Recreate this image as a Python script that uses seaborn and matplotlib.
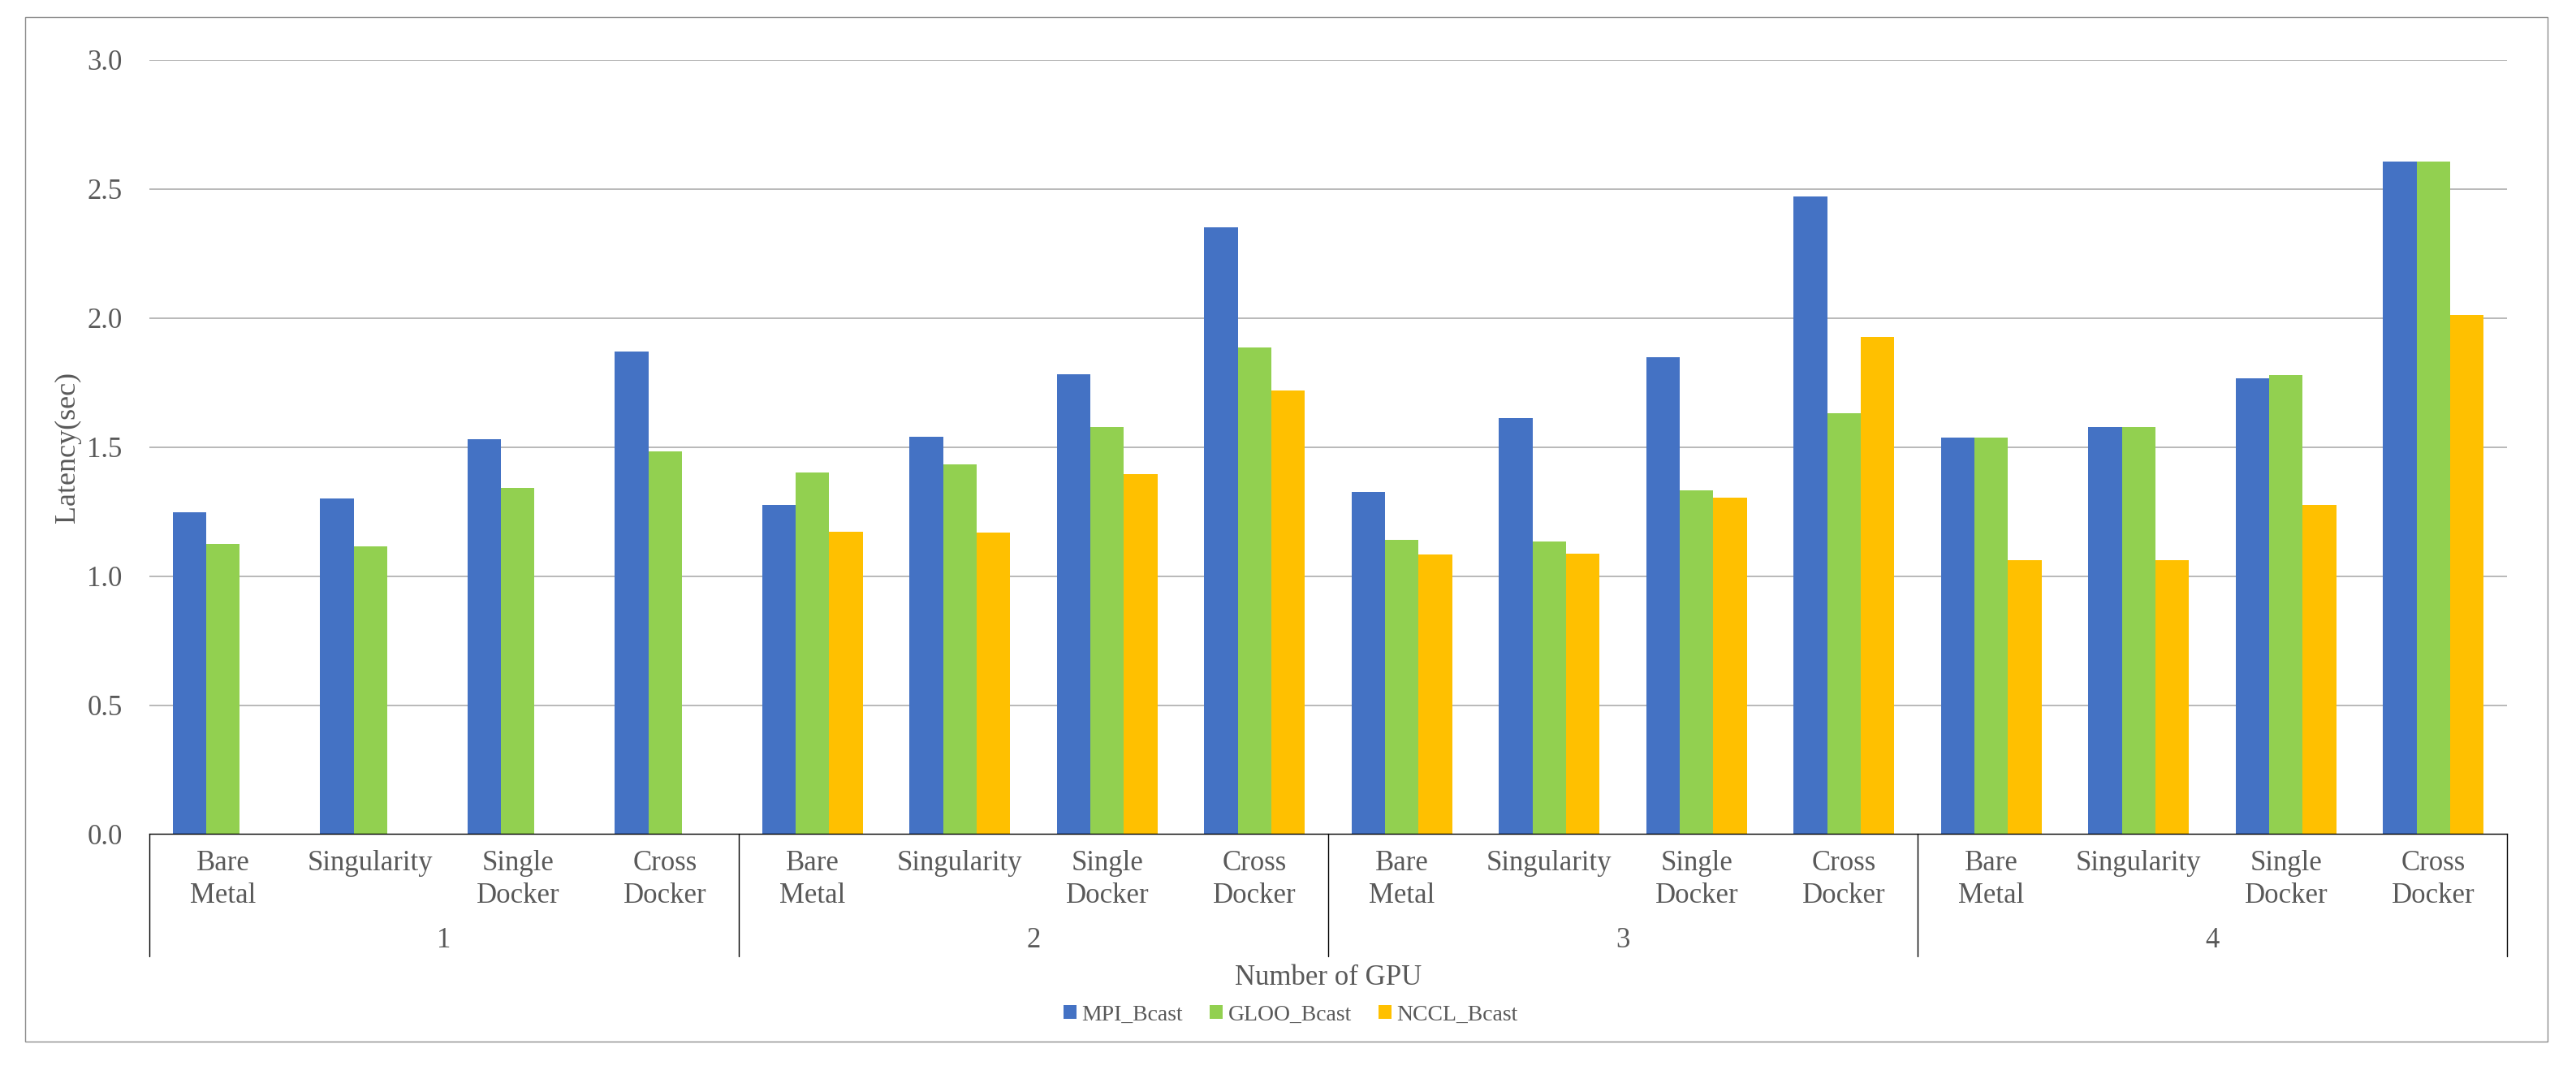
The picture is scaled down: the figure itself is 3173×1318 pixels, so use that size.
import numpy as np
import pandas as pd
import matplotlib
matplotlib.use("Agg")
import matplotlib.pyplot as plt
import matplotlib.transforms as mtransforms
from matplotlib.patches import Rectangle
import seaborn as sns

###############################################################################
# Data
###############################################################################
gpu_counts = ["1", "2", "3", "4"]
configs = ["Bare\nMetal", "Singularity", "Single\nDocker", "Cross\nDocker"]
series_names = ["MPI_Bcast", "GLOO_Bcast", "NCCL_Bcast"]

mpi_bcast = [1.248, 1.301, 1.530, 1.870,
             1.276, 1.540, 1.781, 2.351,
             1.326, 1.611, 1.847, 2.471,
             1.537, 1.578, 1.768, 2.608]
gloo_bcast = [1.124, 1.114, 1.342, 1.484,
              1.401, 1.433, 1.578, 1.885,
              1.139, 1.134, 1.332, 1.631,
              1.537, 1.578, 1.778, 2.606]
nccl_bcast = [np.nan, np.nan, np.nan, np.nan,
              1.172, 1.169, 1.395, 1.719,
              1.083, 1.086, 1.304, 1.926,
              1.061, 1.061, 1.276, 2.012]

colors = ["#4472C4", "#92D050", "#FFC000"]
text_color = "#595959"

###############################################################################
# Long-form table for seaborn
###############################################################################
slots = [f"{g}|{c}" for g in gpu_counts for c in configs]
rows = []
for name, vals in zip(series_names, [mpi_bcast, gloo_bcast, nccl_bcast]):
    for slot, v in zip(slots, vals):
        rows.append({"slot": slot, "series": name, "latency": v})
df = pd.DataFrame(rows)

###############################################################################
# Plot
###############################################################################
sns.set_theme(style="white")
plt.rcParams["font.family"] = ["Liberation Serif", "DejaVu Serif"]

W, H = 3173, 1318
fig = plt.figure(figsize=(W / 100, H / 100), dpi=100)

# outer chart frame
fig.patches.append(Rectangle((31 / W, 1 - 1283 / H), (3138 - 31) / W, (1283 - 21) / H,
                             transform=fig.transFigure, fill=False,
                             edgecolor="#8C8C8C", linewidth=1.0))

left, right, top, bottom = 184, 3088, 74, 1027.4
ax = fig.add_axes([left / W, 1 - bottom / H, (right - left) / W, (bottom - top) / H])

sns.barplot(data=df, x="slot", y="latency", hue="series", order=slots,
            hue_order=series_names, palette=colors, saturation=1,
            width=0.684, errorbar=None, linewidth=0, ax=ax, zorder=3)

ax.set_xlim(-0.5, len(slots) - 0.5)
ax.set_ylim(0, 3.0)
ax.set_yticks(np.arange(0, 3.01, 0.5))
ax.set_yticklabels([f"{v:.1f}" for v in np.arange(0, 3.01, 0.5)],
                   fontsize=25, color=text_color)
ax.tick_params(axis="y", length=0, pad=24)
ax.set_xticks([])
ax.set_xlabel("")
ax.set_ylabel("")

for yv in np.arange(0.5, 3.01, 0.5):
    ax.axhline(yv, color="#A6A6A6", linewidth=1.1, zorder=1)

for s in ["top", "left", "right"]:
    ax.spines[s].set_visible(False)
ax.spines["bottom"].set_color("black")
ax.spines["bottom"].set_linewidth(1.0)
ax.spines["bottom"].set_zorder(5)

# y axis title
fig.text(83 / W, 1 - 551 / H, "Latency(sec)", rotation=90, ha="center",
         va="center", fontsize=26, color=text_color)

# multi-level category axis
trans = mtransforms.blended_transform_factory(ax.transData, ax.transAxes)
ax_h = bottom - top
for i, slot in enumerate(slots):
    cfg = slot.split("|")[1]
    ax.text(i, (bottom - 1047) / ax_h, cfg, transform=trans, ha="center", va="top",
            fontsize=25, color=text_color, linespacing=1.3)
for gi, g in enumerate(gpu_counts):
    ax.text(gi * 4 + 1.5, (bottom - 1167) / ax_h, g, transform=trans,
            ha="center", va="baseline", fontsize=25, color=text_color)
sep_bottom = (bottom - 1178) / ax_h
for xb in np.arange(-0.5, len(slots), 4):
    ax.plot([xb, xb], [0, sep_bottom], transform=trans, color="black",
            linewidth=1.0, clip_on=False)

fig.text((left + right) / 2 / W, 1 - 1213 / H, "Number of GPU", ha="center",
         va="baseline", fontsize=25, color=text_color)

handles, labels = ax.get_legend_handles_labels()
if ax.legend_:
    ax.legend_.remove()
fig.legend(handles, labels, loc="center", bbox_to_anchor=(1590 / W, 1 - 1250 / H),
           ncol=3, frameon=False, fontsize=20, handlelength=0.55, handleheight=0.55,
           handletextpad=0.25, columnspacing=1.2, labelcolor=text_color)

fig.savefig("out.png", dpi=100)
